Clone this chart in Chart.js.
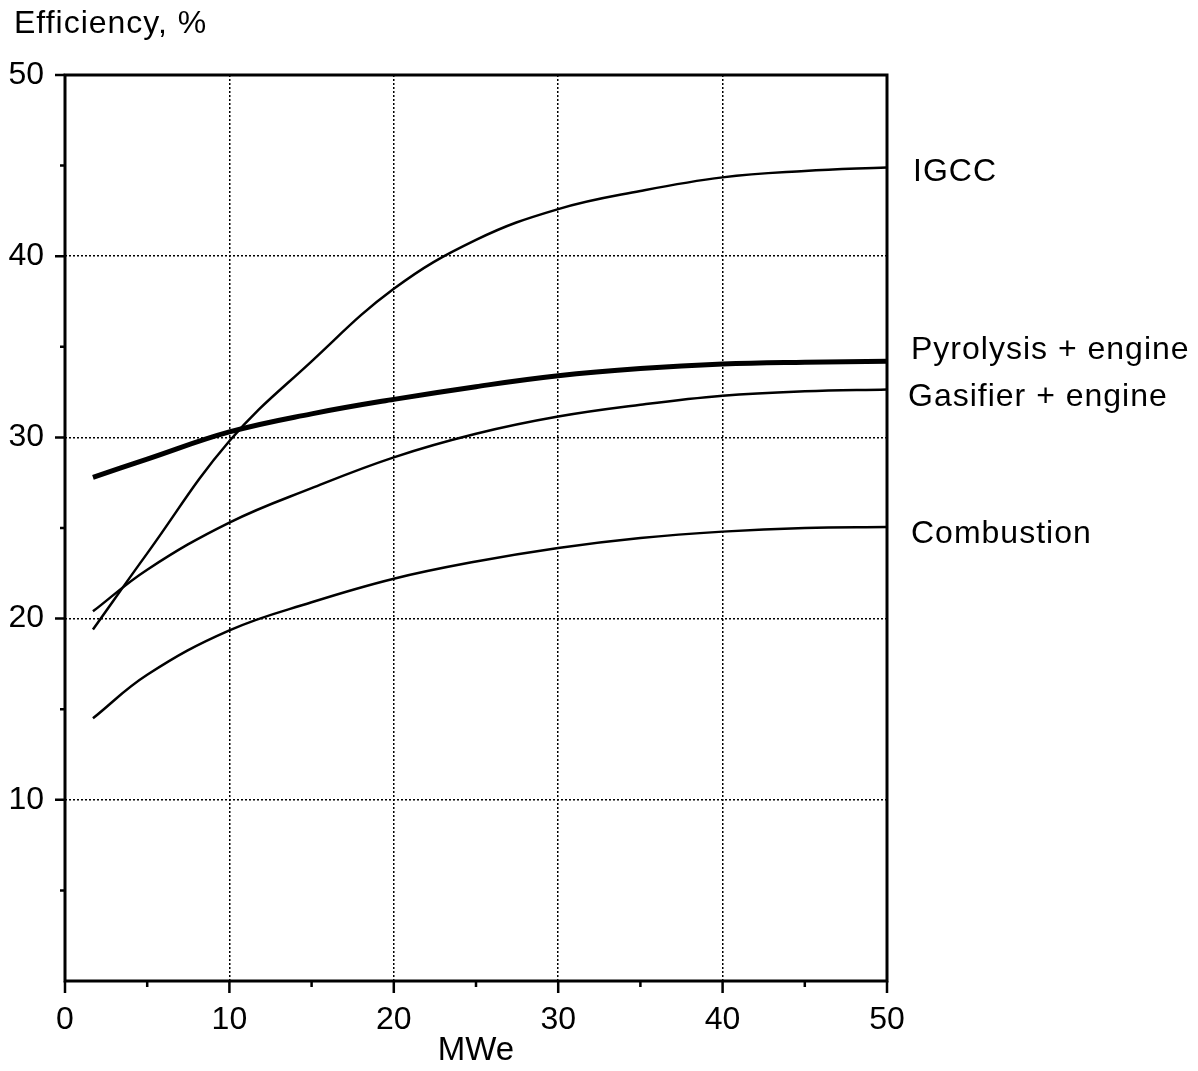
<!DOCTYPE html>
<html>
<head>
<meta charset="utf-8">
<script src="https://cdn.jsdelivr.net/npm/chart.js@4.4.0/dist/chart.umd.min.js"></script>
<style>
    html, body { margin: 0; padding: 0; background: #fff; }
</style>
</head>
<body>
<canvas id="myChart" width="1198" height="1071"></canvas>
<script>
// plant size, MWe
var sizes = [1.7, 5, 10, 15, 20, 25, 30, 35, 40, 45, 50];

// efficiency, %
var igcc       = [19.4, 23.6, 29.8, 34.2, 38.2, 40.9, 42.6, 43.6, 44.35, 44.7, 44.9];
var pyrolysis  = [27.8, 28.8, 30.3, 31.3, 32.1, 32.8, 33.4, 33.8, 34.05, 34.15, 34.2];
var gasifier   = [20.4, 22.7, 25.3, 27.2, 28.9, 30.2, 31.15, 31.8, 32.3, 32.55, 32.65];
var combustion = [14.5, 16.9, 19.35, 20.9, 22.2, 23.15, 23.9, 24.45, 24.8, 25.0, 25.05];

var seriesNames = ['IGCC', 'Pyrolysis + engine', 'Gasifier + engine', 'Combustion'];
var seriesValues = [igcc, pyrolysis, gasifier, combustion];
var lineWidths = [2.5, 5, 2.5, 2.5];
// label offset from the end of each curve (px)
var labelShift = [[26, 5], [24, -11], [21, 8], [24, 7]];

var FONT = "'Liberation Sans', Arial, Helvetica, sans-serif";

function toPoints(ys) {
    return ys.map(function (y, i) { return { x: sizes[i], y: y }; });
}

var frame = {
    id: 'frame',
    afterDraw: function (chart) {
        var ctx = chart.ctx;
        var a = chart.chartArea;
        var xs = chart.scales.x, ys = chart.scales.y;
        ctx.save();
        ctx.strokeStyle = '#000';
        ctx.lineWidth = 3;
        ctx.strokeRect(a.left, a.top, a.right - a.left, a.bottom - a.top);

        ctx.lineWidth = 2.5;
        ctx.beginPath();
        for (var v = 0; v <= 50; v += 5) {
            var px = xs.getPixelForValue(v);
            ctx.moveTo(px, a.bottom);
            ctx.lineTo(px, a.bottom + (v % 10 === 0 ? 12 : 6));
        }
        for (var w = 5; w <= 50; w += 5) {
            var py = ys.getPixelForValue(w);
            ctx.moveTo(a.left, py);
            ctx.lineTo(a.left - (w % 10 === 0 ? 10 : 5), py);
        }
        ctx.stroke();

        ctx.fillStyle = '#000';
        ctx.letterSpacing = '1px';
        ctx.font = '32px ' + FONT;
        ctx.textAlign = 'left';
        ctx.textBaseline = 'middle';
        ctx.fillText('Efficiency, %', 14, 24);

        seriesNames.forEach(function (name, i) {
            var pts = chart.getDatasetMeta(i).data;
            var last = pts[pts.length - 1];
            ctx.fillText(name, last.x + labelShift[i][0], last.y + labelShift[i][1]);
        });
        ctx.restore();
    }
};

var ctx = document.getElementById('myChart').getContext('2d');
var myChart = new Chart(ctx, {
    type: 'line',
    data: {
        datasets: seriesNames.map(function (name, i) {
            return {
                label: name,
                data: toPoints(seriesValues[i]),
                borderColor: '#000',
                borderWidth: lineWidths[i],
                pointRadius: 0,
                fill: false,
                tension: 0.4
            };
        })
    },
    options: {
        responsive: false,
        animation: false,
        layout: { padding: { left: 0, right: 311, top: 75, bottom: 0 } },
        plugins: {
            legend: { display: false },
            tooltip: { enabled: false }
        },
        scales: {
            x: {
                type: 'linear',
                min: 0,
                max: 50,
                afterFit: function (scale) { scale.height = 90; },
                ticks: {
                    stepSize: 5,
                    color: '#000',
                    padding: 20,
                    maxRotation: 0,
                    font: { family: FONT, size: 32 },
                    callback: function (v) { return v % 10 === 0 ? v : ''; }
                },
                grid: {
                    drawTicks: false,
                    lineWidth: 1.5,
                    color: function (c) {
                        var v = c.tick && c.tick.value;
                        return (v % 10 === 0 && v > 0 && v < 50) ? '#000' : 'rgba(0,0,0,0)';
                    }
                },
                border: { display: false, dash: [2, 2] },
                title: {
                    display: true,
                    text: 'MWe',
                    color: '#000',
                    padding: 0,
                    font: { family: FONT, size: 33 }
                }
            },
            y: {
                min: 0,
                max: 50,
                afterFit: function (scale) { scale.width = 65; },
                ticks: {
                    stepSize: 5,
                    color: '#000',
                    padding: 21,
                    font: { family: FONT, size: 32 },
                    callback: function (v) { return (v % 10 === 0 && v > 0) ? v : ''; }
                },
                grid: {
                    drawTicks: false,
                    lineWidth: 1.5,
                    color: function (c) {
                        var v = c.tick && c.tick.value;
                        return (v % 10 === 0 && v > 0 && v < 50) ? '#000' : 'rgba(0,0,0,0)';
                    }
                },
                border: { display: false, dash: [2, 2] }
            }
        }
    },
    plugins: [frame]
});
</script>
</body>
</html>
